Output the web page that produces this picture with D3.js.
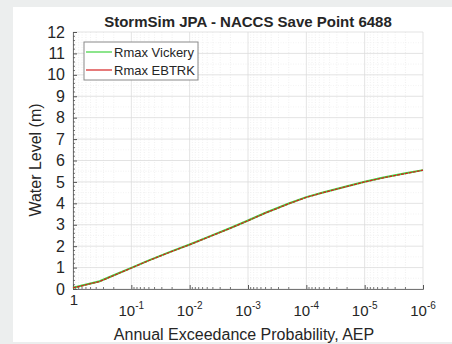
<!DOCTYPE html>
<html><head><meta charset="utf-8">
<script src="https://cdn.jsdelivr.net/npm/d3@7"></script>
<style>
html,body{margin:0;padding:0;background:#eceeee;}
svg{display:block;}
text{font-family:"Liberation Sans",Arial,sans-serif;fill:#262626;}
</style></head>
<body>
<svg id="chart" width="452" height="344"></svg>
<script>
// ---- data ----
const aep = [1, 0.7, 0.5, 0.35, 0.2, 0.1, 0.05, 0.02, 0.01, 0.005, 0.002, 0.001, 5e-4, 2e-4, 1e-4, 5e-5, 2e-5, 1e-5, 5e-6, 2e-6, 1e-6];
const rmaxVickery = [0.06, 0.16, 0.26, 0.36, 0.64, 0.99, 1.34, 1.77, 2.08, 2.41, 2.85, 3.2, 3.56, 3.99, 4.29, 4.52, 4.8, 5.01, 5.19, 5.4, 5.55];
const rmaxEBTRK   = [0.05, 0.15, 0.25, 0.35, 0.63, 0.98, 1.33, 1.76, 2.07, 2.40, 2.84, 3.19, 3.55, 3.98, 4.28, 4.51, 4.79, 5.00, 5.18, 5.39, 5.55];
const seriesNames = ["Rmax Vickery", "Rmax EBTRK"];
const seriesColors = ["#3fd43f", "#d62020"];
const xTickExps = [0, -1, -2, -3, -4, -5, -6];
const yTicks = [0,1,2,3,4,5,6,7,8,9,10,11,12];
const titleText = "StormSim JPA - NACCS Save Point 6488";
const xLabel = "Annual Exceedance Probability, AEP";
const yLabel = "Water Level (m)";

// ---- layout ----
const L = 73, R = 423, T = 32, B = 289;
const svg = d3.select("#chart");
svg.append("rect").attr("x",0).attr("y",0).attr("width",452).attr("height",344).attr("fill","#eceeee");
svg.append("rect").attr("x",13).attr("y",7).attr("width",439).attr("height",335).attr("fill","#ffffff");

const x = d3.scaleLog().domain([1, 1e-6]).range([L, R]);
const y = d3.scaleLinear().domain([0, 12]).range([B, T]);

const g = svg.append("g");

// minor x grid
const minorX = [];
for (let e = 0; e > -6; e--) for (let k = 2; k <= 9; k++) minorX.push(k * Math.pow(10, e - 1));
g.selectAll(".mx").data(minorX).enter().append("line")
  .attr("x1", d => x(d)).attr("x2", d => x(d)).attr("y1", T).attr("y2", B)
  .attr("stroke", "#ececec").attr("stroke-width", 0.8).attr("stroke-dasharray", "1,1.5");
// minor y grid
const minorY = d3.range(0, 12, 0.5).filter(v => v % 1 !== 0);
g.selectAll(".my").data(minorY).enter().append("line")
  .attr("x1", L).attr("x2", R).attr("y1", d => y(d)).attr("y2", d => y(d))
  .attr("stroke", "#f0f0f0").attr("stroke-width", 0.8).attr("stroke-dasharray", "1,1.5");
// major grid
g.selectAll(".gx").data(xTickExps).enter().append("line")
  .attr("x1", d => x(Math.pow(10, d))).attr("x2", d => x(Math.pow(10, d))).attr("y1", T).attr("y2", B)
  .attr("stroke", "#dcdcdc").attr("stroke-width", 0.8);
g.selectAll(".gy").data(yTicks).enter().append("line")
  .attr("x1", L).attr("x2", R).attr("y1", d => y(d)).attr("y2", d => y(d))
  .attr("stroke", "#dcdcdc").attr("stroke-width", 0.8);

// axes
const yAxis = d3.axisLeft(y).tickValues(yTicks).tickSize(-4).tickPadding(8).tickFormat(d3.format("d"));
const ya = svg.append("g").attr("transform", `translate(${L},0)`).call(yAxis);
ya.select(".domain").attr("stroke", "#555").attr("stroke-width", 0.8);
ya.selectAll(".tick line").attr("stroke", "#555");
ya.selectAll(".tick text").attr("font-size", 16).attr("fill", "#262626").attr("x", -8)
  .attr("font-family", "'Liberation Sans',Arial,sans-serif");

const xAxis = d3.axisBottom(x).tickValues(xTickExps.map(e => Math.pow(10, e))).tickSize(-4).tickFormat("");
const xa = svg.append("g").attr("transform", `translate(0,${B})`).call(xAxis);
xa.select(".domain").attr("stroke", "#555").attr("stroke-width", 0.8);
xa.selectAll(".tick line").attr("stroke", "#555");
// minor x ticks
xa.selectAll(".mt").data(minorX).enter().append("line")
  .attr("x1", d => x(d)).attr("x2", d => x(d)).attr("y1", 0).attr("y2", -2)
  .attr("stroke", "#555").attr("stroke-width", 0.8);
// minor y ticks
ya.selectAll(".mty").data(d3.range(0, 12.01, 0.2).filter(v => Math.abs(v - Math.round(v)) > 1e-6)).enter().append("line")
  .attr("x1", 0).attr("x2", 2).attr("y1", d => y(d)).attr("y2", d => y(d))
  .attr("stroke", "#555").attr("stroke-width", 0.8);

// x tick labels
xTickExps.forEach(e => {
  const px = x(Math.pow(10, e));
  if (e === 0) {
    svg.append("text").attr("x", px + 1).attr("y", 305).attr("text-anchor", "middle")
      .attr("font-size", 15).text("1");
  } else {
    const t = svg.append("text").attr("x", px).attr("y", 316).attr("text-anchor", "middle").attr("font-size", 15);
    t.append("tspan").text("10");
    t.append("tspan").attr("font-size", 10).attr("dy", -7).text(String(e));
  }
});

// lines
const line = vals => d3.line().x((d, i) => x(aep[i])).y(d => y(d))(vals);
svg.append("path").attr("d", line(rmaxVickery)).attr("fill", "none")
  .attr("stroke", seriesColors[0]).attr("stroke-width", 2);
svg.append("path").attr("d", line(rmaxEBTRK)).attr("fill", "none")
  .attr("stroke", seriesColors[1]).attr("stroke-width", 1.3).attr("stroke-dasharray", "3,1");

// legend
const lg = svg.append("g");
lg.append("rect").attr("x", 84).attr("y", 42).attr("width", 114).attr("height", 38)
  .attr("fill", "#fff").attr("stroke", "#8a8a8a").attr("stroke-width", 1);
seriesNames.forEach((n, i) => {
  const yy = 52 + i * 18;
  lg.append("line").attr("x1", 86).attr("x2", 112).attr("y1", yy).attr("y2", yy)
    .attr("stroke", seriesColors[i]).attr("stroke-width", 1.2);
  lg.append("text").attr("x", 114).attr("y", yy + 4.5).attr("font-size", 13).text(n);
});

// title & labels
svg.append("text").attr("x", 248).attr("y", 27).attr("text-anchor", "middle")
  .attr("font-size", 15).attr("font-weight", "bold").attr("fill", "#000").text(titleText);
svg.append("text").attr("x", 244).attr("y", 340).attr("text-anchor", "middle")
  .attr("font-size", 16).text(xLabel);
svg.append("text").attr("transform", "translate(41,160) rotate(-90)").attr("text-anchor", "middle")
  .attr("font-size", 16).text(yLabel);
</script>
</body></html>
